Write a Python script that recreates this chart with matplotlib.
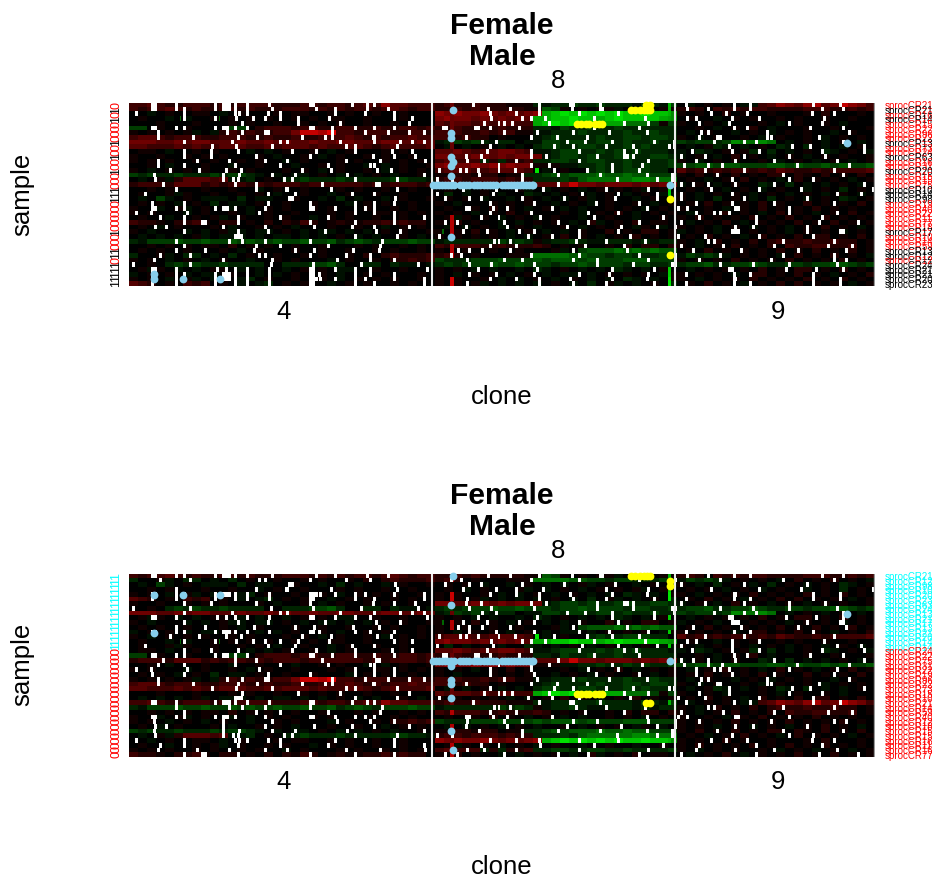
import numpy as np
import matplotlib
matplotlib.use("Agg")
import matplotlib.pyplot as plt

plt.rcParams['font.family'] = ['Liberation Sans', 'DejaVu Sans']

# sample names and sex, top panel order
sample_ids = ['217', '210', '163', '146', '150', '227', '96', '220', '135', '73',
              '241', '631', '169', '317', '200', '158', '154', '75', '106', '143',
              '98', '193', '40', '224', '112', '77', '186', '178', '104', '148',
              '59', '131', '124', '122', '249', '215', '212', '204', '232']
sex = [0, 1, 0, 1, 0, 0, 0, 0, 1, 0,
       0, 1, 0, 0, 1, 0, 0, 0, 1, 1,
       1, 0, 0, 0, 0, 0, 0, 1, 0, 0,
       0, 1, 1, 0, 1, 1, 1, 1, 1]

# second panel shows the same rows sorted by sex
order_bottom = [1, 32, 20, 18, 37, 38, 11, 34, 8, 35, 27, 31, 36, 14, 3, 19,
                10, 5, 17, 13, 23, 21, 6, 7, 9, 4, 28, 0, 29, 30, 22, 33, 26,
                15, 16, 2, 24, 12, 25]

# levels per block of 6 clones: '.' none, a-j red, A-J green
clones_left = [
    "ccdcbbcccbcbccccbbbccbccbcdcfddccc", "cbccdcbcbbccbcbbbcccbcbcbccbcdcbcc",
    "..A.a..aa.A.a...a.aa..a.a..a..a...", ".a..A.A..a.a.a.a..a.a.aa..a...a...",
    "...a...a...a.a..a..a.a.a..a..a....", "CC.a..a....CC.bcccbccbbccbbcbbccbc",
    "a.a.a.aA.Abcbcbbccehhgiccbcccbbccb", "cddcbcccbbcccbbcbbcbbcccdcbcbccdcc",
    "eeeddedeedddeddededdeddeedddeedded", "ddcccdcdccdddccdcdddcdccddcbcdcccd",
    ".aa.A..a.a...A.A.a..a.A.a...a.a...", "a..a..a.a.a...a.A..a.A.a..a.a..a..",
    "a.a.a..a.a..a.a..A.a...a.a..a.a.a.", "..a.A...a..A..a...A..a.a..A.A.a..a",
    "a.A.a.a.a..a.a...a.a.A.a..a.A.a.a.", "CBCBBCBBBCBCCBA.A.AA.a.A.A.a.A..a.",
    ".A.aAbdddcdAAB.a.BBCBBBCBBBBBCCBBA", "bcccbdddbcbccbcbcccbccccccbcbcccbc",
    "..a.a...a..a..A.a..a...a.a..a..a..", ".a..aAa..a..a.a.A..a..A.a..a..a...",
    ".A.CA.a.AAA.B.AA..a..A.B.A..A.a..a", ".a.a.A.a.B.AA.a..a..a...A.a.a..a..",
    "a..A.aA.a..A.A.a.a..a.a...a..a.a..", "a.a...A.a..a.A.a..a...a.a..aa.a.a.",
    ".a..A..a.aA.a..a.a..A.a.a..a..a...", "cbba.bbca.bb.a.b.bacb.abaabbcbcbb.",
    ".a.A.a...a.A..a.a.A...a..a..A.a.a.", "a.A...A.A.aAA.AA.a.A.AA.A.A.a.a..a",
    ".A.A.A.aA.AAA.A.AA.A.A.a.A.A..a.A.", "BACCCDCCDCCDCDCCDCCDCCDBCDCBCCCDCC",
    "..a.a.a.aa.b.a.a..a..a...a.a..a.a.", ".a.a..a...a.A.a...a..a..a..a.a..a.",
    "B..aA.BB.A.B.a..a..a.a..a.b.bcbbbc", "a.a.A.a.A.a..A..a.a...A.a..a.bbcbc",
    "..a.BCBCBBCBBBB..BBBCCDB..BB.BAA.A", ".aAa.A.A.aa.A.A..A.a.a.AA..a..a...",
    "A.a.a.A.AA.a..A.A.a..a.A..a.a...a.", "a.a.A.aA.AB.AB.a..a..a.A.a.a.a..a",
    "dcb.a.cbc.a.A.AB.a.a..A.a.a..a.a.",
]
clones_mid = [
    "bcbbcbbbaaaBABBCBBCBBBACBAC", "bbcbcbbbbbaaDCa.a.aaA.aa.aa",
    "fefeefededefGHIHIHIHIHHIHHF", "efeededededGGHHIHHGHIHHHHGF",
    "dcddcdcddccGHIHIIHGGGEEECaC", "bbcbbbbcbbbBBACBBCBBCBBBBBB",
    "cccbbcbccaaAABBBCBBBBCBBCBB", "ccbcbb.a...ABCBBBBCBBCCBCCB",
    "ABCBCBABB.AACCBCCBCCBCBBCBB", ".A.A.a.A.A.BCCBBCCBBBCBCBBA",
    "ddedcddeedcAABCCBBCBCBCBBBA", "eeddeededeeeABCCBCBBCCBBCCB",
    "cdcccBbBbbcBBCCBBCCBBCBBBBC", "efeefefefeeaaaAABBCBBCBCBBC",
    "cdddccddddc.A.a..BCBBCCCBB.", "aabbabb.aaBBCDCDDDEDDEDDCCC",
    "bccbcccbcbbBBBCBDEEEEEFFEEE", "cccbcccccccdddeheedeeededee.",
    ".a.A.a...aA.A.a.A.a.a.aA.a.", ".B.A.a.A..BA.A.a.A.a.A.a.AA",
    ".a.a.A..A.a.A.A.aA.a..A.a.A", "a.A...a.a.a..A.a.A.a..a.A.a",
    ".a..a.b.a.A.a.A.A..a.a.A.a.", "a.a.A.a.b.a...a.A.a.b.A.a.a",
    ".aAa.a.A.a.A.a..A..a..A..a.", "a.b.a..A.A.a.a.A.bA.a.b.aa.",
    ".A.A.a.A.a.A..a.A.a.a.Aa.A.", "a.a.b.a.A.a.A.A.a..b.a.bb.a",
    "a.a.a.a.A.A.a.b.a.A.a.b.a.a", "ABBBBBBCBCBaABBCBAABBBABABB",
    "cbcccbbcbbbcb.a.a..a.b.bb.b", "a..a..a..a...aA.CDDDEDEDEDD",
    "bcb.a...aaaEEEEDDCCBCCBBBCC", "CBBBCCCDCCCDCDDDCDCCCDDDCCC",
    "BCBCCCDCCDCCCBCCDCCCCBCCBBC", "a.a.A.A..A.BA.a.A.A.BA.A.a.",
    "a.A.a.a.A.a.A.AA.A.a.a.a.Aa", "a.a..a.A.A.a.A.a.A.A.BA.A.a",
    "a.a.aA.A.A.A.a.A.B.aA.A.a.B",
]
clones_right = [
    ".A.a.a.AAcdfedfgdehfec", "bcb.cbcbccbbbbcccbbcbc",
    "a.a..b.a..a...a.b...a.", ".a..A.a.a..a.a..a..a..",
    "a..a.A...a.A.a..a.A...", "..a.A.a.b.A...a..a...a",
    ".A.a..A.a.A.a.a..A.a..", "a.A.a..a.A.a..a.A.a.a.",
    "CBCCBCFEEFE.A.a.A.a.A.", ".A.aBA.A.a.BA.B.A.A.a.",
    "A.BA.a.aB.B.A.a.BA.a.A", "A.a.A.b.a.A.a.A.a.a..a",
    "a.A.a.a..a.A.a.A.a.A.a", "CCDDCDDCCCDDCDCCDCDCCD",
    "dbcbcbccbcbdcbbcbccccd", "a.b.a.b.a.bb.ba.b.a.b.",
    ".a.A.a.b.a.A.b.a.a.A.a", "A.a.A.a..BA.B.A.A.a.A.",
    ".a.a.A.a.A.a..A.a.B.a.", "a.A.a.a.A.a.A.a.A.a.A.",
    "a.A.B.a.A.B.a.A.a.BA.a", ".a.b.a.a.b.a..b.a.a.b.",
    "a..a.A.a.b.a.a.b.a.a..", ".A.a.b.a.A.b.a.A.a.b.a",
    "a.b.a.a.b.a.b.a.b.a.a.", ".A.a.b.A.a.a.b.a.b.a.a",
    "a.a.A.a.A.a.A.a.b.a.A.", "A.a.A.a.a.a.A.a.a.A.a.",
    ".a.b.a.A.b.a.b.bb.a.b.", "a.A.b.a.b.bcbbcbbcbb.a",
    "a.A.a.b.a.b.cbbccbbc.a", ".a.b.a.a.a.b.a.b.a.b.a",
    "ACBCBA.a.a.A.b.a.b.a.A", "a.a.a.b.a.a.b.a.a.b.a.",
    "BCCDBBCCDCBBCCBCCDDCBC", ".A.a.a.a.b.a.bb.a.b.a.",
    "a.a.a.A.bb.a.b.a.A.a.b", "a.A.a.a.b.a.a.b.a.b.a.",
    ".a.b.a.A.a.b.b.a.a.A.a",
]

# missing cells (clone number) for each row
white_cells = [
    [15, 17, 31, 57, 62, 63, 64, 65, 66, 70, 78, 93, 120, 122, 148, 158, 163, 229, 273, 294, 296, 314, 371, 403, 414, 456, 474],
    [15, 17, 31, 36, 57, 62, 63, 64, 65, 66, 70, 78, 95, 124, 137, 158, 172, 239, 254, 273, 295, 314, 315, 372, 386, 403, 414, 462, 476],
    [4, 36, 70, 73, 78, 92, 100, 137, 157, 176, 240, 258, 273, 300, 326, 388, 398, 412, 455, 470],
    [36, 57, 71, 82, 90, 100, 112, 133, 176, 188, 241, 262, 268, 277, 310, 344, 372, 378, 402, 420, 463],
    [75, 112, 140, 186, 236, 246, 250, 255, 280, 330, 346, 380, 400, 440, 462],
    [15, 17, 31, 36, 57, 62, 63, 64, 65, 70, 78, 120, 122, 135, 150, 163, 176, 209, 211, 230, 232, 240, 260, 310, 340, 403, 412, 454, 476],
    [19, 65, 75, 90, 92, 135, 157, 172, 186, 196, 250, 272, 296, 320, 345, 381, 386, 425, 480],
    [19, 42, 72, 85, 115, 130, 135, 162, 163, 224, 268, 285, 305, 380, 392, 394, 425, 428, 460],
    [36, 68, 100, 105, 140, 163, 180, 188, 196, 235, 244, 292, 304, 322, 350, 363, 390, 410, 418, 476],
    [55, 71, 95, 144, 150, 178, 240, 283, 296, 318, 336, 360, 363, 400, 442, 454, 490],
    [36, 54, 72, 108, 124, 150, 175, 188, 238, 268, 300, 330, 338, 375, 402, 420, 462, 490],
    [36, 54, 84, 120, 162, 176, 190, 224, 234, 268, 278, 312, 330, 332, 336, 368, 384, 410, 440, 464],
    [19, 45, 66, 90, 105, 144, 167, 197, 225, 236, 258, 300, 346, 378, 404, 430, 472],
    [19, 36, 70, 100, 132, 160, 163, 246, 268, 280, 322, 342, 370, 386, 395, 445, 480],
    [27, 46, 64, 74, 115, 134, 165, 174, 206, 220, 224, 232, 246, 257, 283, 305, 322, 340, 384, 410, 470],
    [16, 62, 73, 95, 110, 145, 196, 233, 262, 286, 314, 345, 362, 392, 436, 476],
    [17, 62, 69, 72, 103, 108, 150, 178, 205, 215, 262, 325, 352, 362, 402, 440, 456],
    [22, 70, 84, 128, 164, 166, 286, 368, 376, 386, 404, 430, 490],
    [31, 84, 105, 104, 134, 178, 222, 244, 258, 276, 318, 346, 388, 420, 448, 496],
    [10, 92, 110, 148, 163, 205, 242, 302, 326, 352, 368, 402, 472, 488],
    [106, 108, 177, 210, 226, 234, 262, 290, 324, 352, 368, 410, 452],
    [15, 36, 92, 120, 150, 163, 176, 240, 270, 311, 340, 378, 402, 430, 470],
    [15, 17, 31, 36, 57, 62, 63, 64, 65, 70, 90, 120, 122, 137, 150, 157, 163, 224, 226, 242, 252, 282, 345, 366, 372, 404, 406, 440],
    [4, 14, 38, 86, 150, 163, 176, 240, 268, 306, 326, 378, 390, 394, 400, 440, 472],
    [20, 36, 72, 100, 132, 176, 196, 234, 246, 274, 310, 356, 380, 418, 462],
    [36, 48, 50, 72, 120, 150, 176, 210, 218, 250, 286, 306, 340, 368, 418, 460, 486],
    [17, 24, 62, 90, 123, 148, 163, 186, 224, 252, 292, 328, 352, 364, 404, 416, 452],
    [36, 72, 92, 130, 164, 180, 222, 238, 260, 270, 300, 326, 402, 404, 406, 452, 474, 476],
    [70, 72, 74, 150, 178, 206, 214, 266, 282, 300, 334, 366, 384, 420, 456],
    [31, 66, 75, 90, 120, 168, 243, 246, 254, 298, 318, 344, 386, 390, 436, 470],
    [36, 84, 100, 132, 167, 240, 258, 304, 330, 368, 396, 430, 466, 482],
    [31, 50, 83, 110, 123, 149, 166, 219, 226, 235, 254, 296, 332, 376, 408, 446, 478],
    [20, 40, 86, 90, 120, 144, 160, 214, 221, 268, 300, 340, 364, 394, 436, 470],
    [16, 62, 95, 138, 160, 176, 225, 250, 262, 296, 312, 346, 364, 380, 428, 470, 478],
    [2, 40, 94, 122, 154, 192, 226, 241, 270, 312, 336, 362, 364, 394, 416, 440, 472],
    [15, 17, 31, 58, 64, 70, 78, 93, 120, 122, 137, 150, 160, 198, 232, 272, 322, 350, 400, 402, 438, 458, 476],
    [15, 17, 31, 36, 57, 62, 63, 64, 65, 66, 70, 78, 93, 120, 122, 126, 150, 160, 176, 226, 244, 270, 300, 320, 346, 371, 403, 414, 456],
    [15, 17, 31, 36, 57, 62, 63, 64, 65, 66, 70, 78, 93, 120, 122, 124, 127, 137, 150, 157, 176, 196, 240, 258, 273, 294, 322, 345, 403, 404, 456, 474],
    [15, 31, 57, 70, 78, 93, 120, 122, 150, 163, 196, 225, 273, 296, 318, 350, 371, 403, 414, 456, 474],
]

# narrow vertical streaks, (clones, rows, value)
red_streak_clones = [214, 215, 216]
red_streak_rows = [0, 2, 3, 4, 5, 6, 7, 8, 9, 24, 25, 26, 27, 30, 31, 32, 37, 38]
red_streak_vals = [.4, .4, .4, .4, .4, .4, .4, .4, .4, .7, .7, .7, .7, .7, .7, .7, .8, .8]
green_streak_clones = [360, 361]
green_streak_rows = [0, 1, 2, 3, 18, 19, 35, 36, 37, 38]
green_streak_vals = [.7, .7, .7, .6, .8, .8, .8, .8, .9, .9]
bright_rows = [14, 14, 14, 3, 3, 27]
bright_clones = [271, 272, 273, 34, 60, 209]
bright_vals = [-.9, -.9, -.9, -.4, -.4, -.4]

# points drawn on the heatmap
blue_rows = [1, 6, 7, 11, 12, 13, 15, 28, 36, 37, 37, 37, 8, 17]
blue_clones = [216, 215, 215, 215, 216, 215, 215, 215, 17, 17, 36, 61, 479, 361]
band_clones = [203, 205, 207, 209, 211, 213, 215, 217, 221, 223, 225, 227, 230,
               232, 234, 237, 239, 241, 243, 245, 249, 251, 253, 255, 257, 259,
               261, 263, 265, 267, 269, 270]
yellow_rows = [0, 0, 1, 1, 1, 1, 1, 1, 4, 4, 4, 4, 4, 4, 4, 20, 32]
yellow_clones = [345, 348, 335, 338, 341, 344, 346, 348, 299, 302, 305, 307, 311, 314, 316, 361, 361]

W, H = 932, 880
BLOCK = 6
N_CLONES = 498


def level(ch):
    if ch in 'abcdefghij':
        return ((ord(ch) - 96) / 10) ** 1.2
    if ch in 'ABCDEFGHIJ':
        return -((ord(ch) - 64) / 10) ** 1.2
    return 0.0


# build the sample by clone table
rows = []
for i in range(len(sample_ids)):
    s = clones_left[i].ljust(34, '.')[:34] + clones_mid[i].ljust(27, '.')[:27] + clones_right[i].ljust(22, '.')[:22]
    rows.append(np.repeat([level(c) for c in s], BLOCK))
values = np.array(rows)
for r, v in zip(red_streak_rows, red_streak_vals):
    values[r, red_streak_clones] = v
for r, v in zip(green_streak_rows, green_streak_vals):
    values[r, green_streak_clones] = -v
for r, c, v in zip(bright_rows, bright_clones, bright_vals):
    values[r, c] = v
# a missing clone shows about two image cells wide
missing = np.zeros(values.shape, dtype=bool)
for r, cols in enumerate(white_cells):
    missing[r, cols] = True
    missing[r, [min(c + 1, N_CLONES - 1) for c in cols]] = True


def to_rgb(vals, miss):
    rgb = np.zeros(vals.shape + (3,))
    rgb[..., 0] = np.clip(vals, 0, 1)
    rgb[..., 1] = np.clip(-vals, 0, 1)
    rgb[miss] = 1.0
    return rgb


def fig_text(x, y, s, **kw):
    fig.text(x / W, 1 - y / H, s, ha=kw.pop('ha', 'center'), va=kw.pop('va', 'center'), **kw)


def draw_panel(top, order, dy, label_colors):
    ax = fig.add_axes([129 / W, 1 - (top + 183) / H, 746 / W, 183 / H])
    ax.imshow(to_rgb(values[order], missing[order]), aspect='auto', interpolation='nearest',
              extent=[0, N_CLONES, len(order), 0])
    ax.axvline(202.5, color='#ececec', lw=1.5)
    ax.axvline(364.5, color='#ececec', lw=1.5)
    ax.axvline(497.5, color='#999999', lw=1)
    ax.set_xlim(0, N_CLONES)
    ax.set_ylim(len(order), 0)
    ax.axis('off')

    pos = {r: i for i, r in enumerate(order)}
    ax.plot(blue_clones, [pos[r] + .5 for r in blue_rows], 'o', color='skyblue', ms=5.6, mew=0, clip_on=False)
    ax.plot(band_clones, [pos[17] + .5] * len(band_clones), 'o', color='skyblue', ms=5.6, mew=0, clip_on=False)
    ax.plot(yellow_clones, [pos[r] + .5 for r in yellow_rows], 'o', color='yellow', ms=5.6, mew=0, clip_on=False)

    row_h = 183 / len(order)
    for i, r in enumerate(order):
        y = top + row_h * (i + .5)
        c = label_colors[sex[r]]
        fig_text(116.5, y, str(sex[r]), rotation=90, fontsize=9, color=c)
        fig_text(885, y + 1, 'sprocCR' + sample_ids[r], ha='left', fontsize=7, color=c)

    fig_text(502, 26 + dy, 'Female', fontsize=21.7, fontweight='bold')
    fig_text(502, 57 + dy, 'Male', fontsize=21.7, fontweight='bold')
    fig_text(558, 81 + dy, '8', fontsize=18.5)
    fig_text(284, 312 + dy, '4', fontsize=18.5)
    fig_text(778, 312 + dy, '9', fontsize=18.5)
    fig_text(502, 397 + dy, 'clone', fontsize=18.5)
    fig_text(22, 194 + dy, 'sample', fontsize=18.5, rotation=90)


fig = plt.figure(figsize=(W / 100, H / 100), dpi=100)
draw_panel(103, list(range(len(sample_ids))), 0, {0: 'red', 1: 'black'})
draw_panel(574, order_bottom, 470, {0: 'red', 1: 'cyan'})
fig.savefig('out.png', dpi=100)
